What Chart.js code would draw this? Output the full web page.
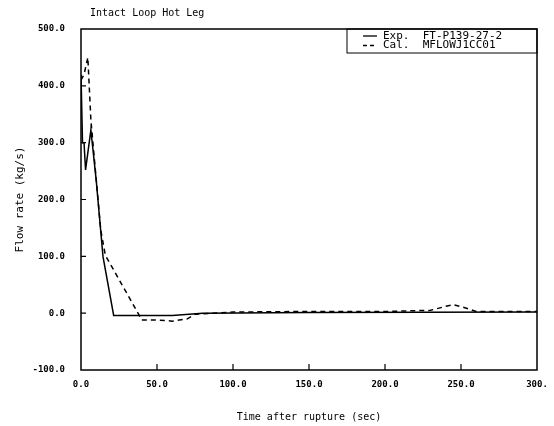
<!DOCTYPE html>
<html><head><meta charset="utf-8">
<script src="https://cdn.jsdelivr.net/npm/chart.js@4/dist/chart.umd.min.js"></script>
<style>html,body{margin:0;padding:0;background:#fff}#wrap{width:554px;height:426px}</style>
</head><body><div id="wrap"><canvas id="c" width="554" height="426"></canvas></div>
<script>
const chartTitle = "Intact Loop Hot Leg";
const xTitle = "Time after rupture (sec)";
const yTitle = "Flow rate (kg/s)";
const xTickLabels = {0:"0.0",50:"50.0",100:"100.0",150:"150.0",200:"200.0",250:"250.0",300:"300."};
const yTickLabels = {"-100":"-100.0",0:"0.0",100:"100.0",200:"200.0",300:"300.0",400:"400.0",500:"500.0"};
const expLabel = "Exp.  FT-P139-27-2";
const calLabel = "Cal.  MFLOWJ1CC01";
const expTime = [0, 1, 2, 3, 6.5, 10, 14.5, 21.5, 60, 80, 150, 300];
const expFlow = [420, 300, 300, 252, 322, 234, 99, -4, -4, 0, 1, 2];
const calTime = [0, 2, 4.5, 6.5, 13, 16, 37.5, 40, 50, 60, 70, 75, 100, 150, 200, 230, 240, 245, 252, 260, 300];
const calFlow = [410, 420, 450, 340, 146, 102, 0, -12, -12, -14, -10, -2, 2, 3, 3, 5, 12, 15, 10, 3, 3];

const mono = "'DejaVu Sans Mono', 'Liberation Mono', monospace";
const toXY = (t, v) => t.map((x, i) => ({x: x, y: v[i]}));

const framePlugin = {
  id: 'frame',
  afterDraw(chart) {
    const ctx = chart.ctx, a = chart.chartArea;
    const xs = chart.scales.x, ys = chart.scales.y;
    ctx.save();
    ctx.strokeStyle = '#000';
    ctx.lineWidth = 1.5;
    ctx.strokeRect(a.left, a.top, a.right - a.left, a.bottom - a.top);
    ctx.lineWidth = 1.2;
    ctx.beginPath();
    xs.ticks.forEach(t => {
      if (t.value <= 0 || t.value >= 300) return;
      const px = xs.getPixelForValue(t.value);
      ctx.moveTo(px, a.bottom); ctx.lineTo(px, a.bottom - 6);
    });
    ys.ticks.forEach(t => {
      if (t.value <= -100 || t.value >= 500) return;
      const py = ys.getPixelForValue(t.value);
      ctx.moveTo(a.left, py); ctx.lineTo(a.left + 5, py);
    });
    ctx.stroke();
    ctx.fillStyle = '#000';
    ctx.font = "10px " + mono;
    ctx.textBaseline = 'middle';
    ctx.textAlign = 'left';
    ctx.fillText(chartTitle, 90, 13);
    const bx = 347, by = a.top, bw = a.right - 347, bh = 24;
    ctx.lineWidth = 1;
    ctx.strokeRect(bx, by, bw, bh);
    const rows = [[expLabel, []], [calLabel, [4, 3]]];
    rows.forEach((r, i) => {
      const y = by + 7 + i * 9.5;
      ctx.setLineDash(r[1]);
      ctx.lineWidth = 1.3;
      ctx.beginPath(); ctx.moveTo(363, y); ctx.lineTo(377, y); ctx.stroke();
      ctx.setLineDash([]);
      ctx.font = "11px " + mono;
      ctx.fillText(r[0], 383, y);
    });
    ctx.restore();
  }
};

new Chart(document.getElementById('c'), {
  type: 'line',
  data: {
    datasets: [
      {label: expLabel, data: toXY(expTime, expFlow), borderColor: '#000', borderWidth: 1.5, pointRadius: 0, tension: 0, fill: false},
      {label: calLabel, data: toXY(calTime, calFlow), borderColor: '#000', borderWidth: 1.5, borderDash: [5, 4], pointRadius: 0, tension: 0, fill: false}
    ]
  },
  options: {
    responsive: false,
    animation: false,
    events: [],
    layout: {padding: {top: 29, right: 17, left: 0, bottom: 0}},
    plugins: {legend: {display: false}, tooltip: {enabled: false}, title: {display: false}},
    scales: {
      x: {
        type: 'linear', min: 0, max: 300,
        ticks: {stepSize: 50, color: '#000', padding: 9, maxRotation: 0,
          font: {family: mono, size: 9, weight: 'bold'},
          callback: v => xTickLabels[v] !== undefined ? xTickLabels[v] : ''},
        grid: {display: true, drawOnChartArea: false, drawTicks: false},
        border: {display: false},
        title: {display: true, text: xTitle, color: '#000', font: {family: mono, size: 10}, padding: {top: 0, bottom: 3}},
        afterFit: s => { s.height = 56; s.paddingRight = 0; s.paddingLeft = 0; }
      },
      y: {
        type: 'linear', min: -100, max: 500,
        ticks: {stepSize: 100, color: '#000', padding: 16,
          font: {family: mono, size: 9, weight: 'bold'},
          callback: v => yTickLabels[v] !== undefined ? yTickLabels[v] : ''},
        grid: {display: true, drawOnChartArea: false, drawTicks: false},
        border: {display: false},
        title: {display: true, text: yTitle, color: '#000', font: {family: mono, size: 11}, padding: {top: 14, bottom: 0}},
        afterFit: s => { s.width = 81; s.paddingTop = 0; s.paddingBottom = 0; }
      }
    }
  },
  plugins: [framePlugin]
});
</script>
</body></html>
